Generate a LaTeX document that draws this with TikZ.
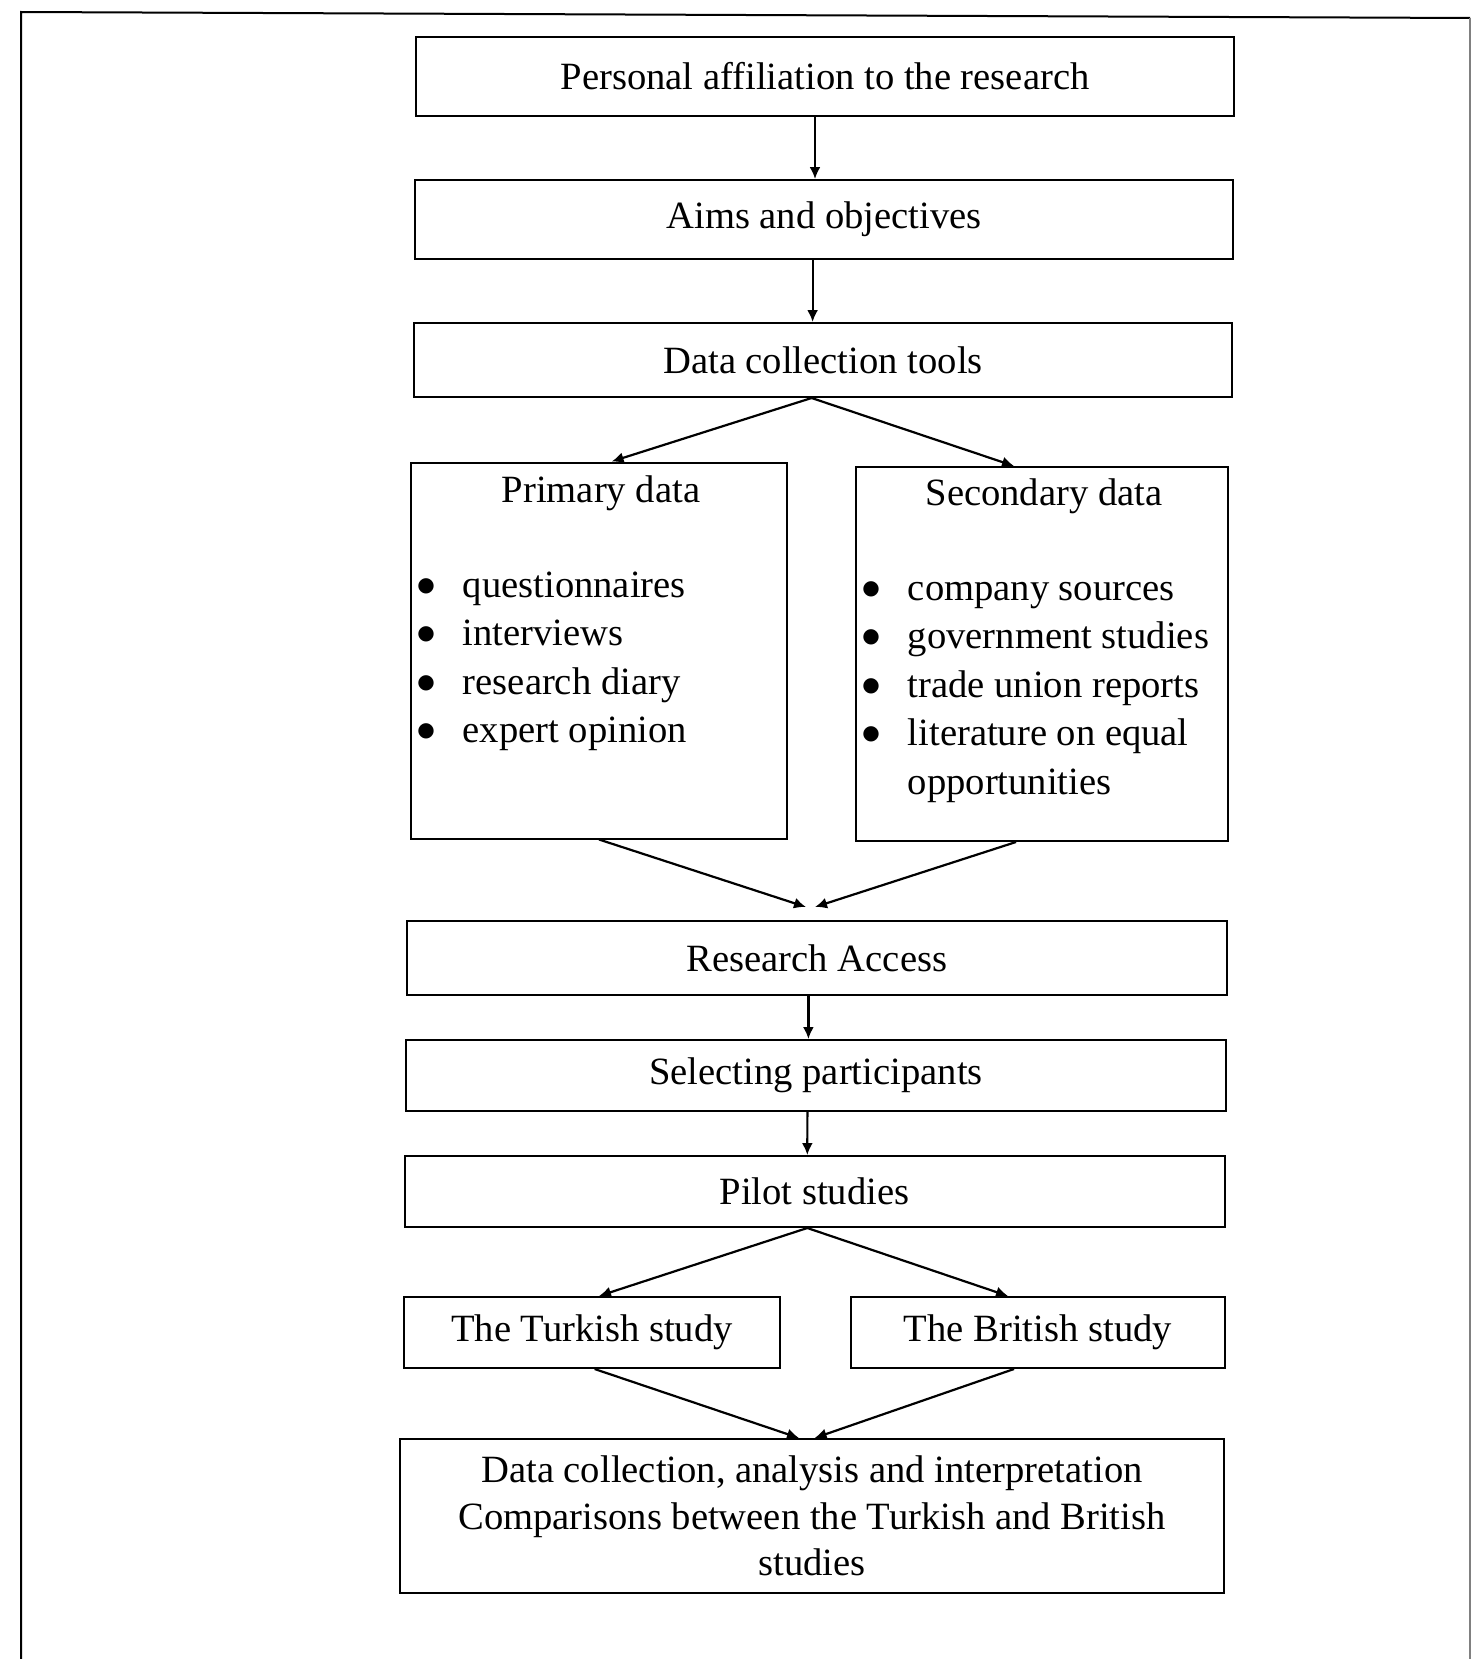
\documentclass[tikz,border=0pt]{standalone}
\usepackage{fontspec}
\setmainfont{Liberation Serif}
\newfontfamily\symfont{DejaVu Sans}
\usetikzlibrary{arrows.meta,positioning}
\newcommand{\boxfont}{\fontsize{19.3}{24.3}\selectfont}
\newcommand{\lastfont}{\fontsize{19.3}{23.3}\selectfont}
\newcommand{\bul}{\raisebox{3pt}{\symfont\fontsize{10}{10}\selectfont ●}}

\begin{document}
\begin{tikzpicture}[
        x=0.5pt, y=-0.5pt,
        box/.style={
            rectangle,
            draw,
            line width=1pt,
            inner sep=0pt,
            font=\boxfont
        },
        wide/.style={
            box,
            minimum width=409pt,
            minimum height=37pt
        },
        half/.style={
            box,
            minimum width=188pt,
            minimum height=35.5pt
        },
        listbox/.style={
            box,
            minimum width=188pt,
            minimum height=188pt
        },
        label/.style={
            inner sep=0pt,
            font=\boxfont
        },
        arrow/.style={
            ->,
            line width=1.1pt,
            >={Latex[length=6pt,width=5.5pt]}
        }
    ]
    \useasboundingbox (0,0) rectangle (1475,1659);
    % Page frame
    \draw[line width=1pt] (21,1659) -- (21,12) -- (1470,18);
    \draw[gray, line width=0.6pt] (1470,18) -- (1470,1659);
    % Top column
    \node[wide, minimum height=39.5pt] (affil) at (825,76.5) {Personal affiliation to the research};
    \node[wide, minimum height=39.5pt] (aims) at (824,219.5) {Aims and objectives};
    \node[wide] (tools) at (823,360) {Data collection tools};
    % Data sources
    \node[listbox] (primary) at (599,650.5) {};
    \node[label] (primtitle) at (601,493) {Primary data};
    \node[label, anchor=base west] (primlist) at (417,597) {%
        \begin{tabular}[t]{@{}l@{\hspace{14pt}}l@{}}
        \bul & questionnaires\\
        \bul & interviews\\
        \bul & research diary\\
        \bul & expert opinion
        \end{tabular}};
    \node[listbox, minimum width=186pt, minimum height=187pt] (secondary) at (1042,654) {};
    \node[label] (sectitle) at (1044,496) {Secondary data};
    \node[label, anchor=base west] (seclist) at (862,600) {%
        \begin{tabular}[t]{@{}l@{\hspace{14pt}}l@{}}
        \bul & company sources\\
        \bul & government studies\\
        \bul & trade union reports\\
        \bul & literature on equal\\
         & opportunities
        \end{tabular}};
    % Lower column
    \node[wide, minimum width=410pt] (access) at (817,958) {Research Access};
    \node[wide, minimum width=410pt, minimum height=35.5pt] (select) at (816,1075.5) {Selecting participants};
    \node[wide, minimum width=410pt, minimum height=35.5pt] (pilot) at (814.5,1191.5) {Pilot studies};
    % Studies
    \node[half] (turkish) at (592,1332.5) {The Turkish study};
    \node[half, minimum width=187pt] (british) at (1038,1332.5) {The British study};
    \node[wide, minimum width=412pt, minimum height=77pt, font=\lastfont, align=center] (analysis) at (812,1516)
        {Data collection, analysis and interpretation\\Comparisons between the Turkish and British\\studies};
    % Connections
    \draw[arrow] ([xshift=-5pt]affil.south) -- ([xshift=-4.5pt]aims.north);
    \draw[arrow] ([xshift=-5.7pt]aims.south) -- ([xshift=-5.2pt]tools.north);
    \draw[arrow] ([xshift=-5.7pt]tools.south) -- ([xshift=6.3pt]primary.north);
    \draw[arrow] ([xshift=-5.7pt]tools.south) -- ([xshift=-14pt]secondary.north);
    \draw[arrow] (primary.south) -- ([xshift=-5.5pt,yshift=6.5pt]access.north);
    \draw[arrow] ([xshift=-13pt]secondary.south) -- ([xshift=-1pt,yshift=6.5pt]access.north);
    \draw[arrow] ([xshift=-4.3pt]access.south) -- ([xshift=-3.8pt]select.north);
    \draw[arrow] ([xshift=-4.3pt]select.south) -- ([xshift=-3.6pt]pilot.north);
    \draw[arrow] ([xshift=-3.6pt]pilot.south) -- ([xshift=3.5pt]turkish.north);
    \draw[arrow] ([xshift=-3.6pt]pilot.south) -- ([xshift=-15pt]british.north);
    \draw[arrow] ([xshift=1.3pt]turkish.south) -- ([xshift=-6.5pt]analysis.north);
    \draw[arrow] ([xshift=-12pt]british.south) -- ([xshift=1.3pt]analysis.north);
\end{tikzpicture}
\end{document}
